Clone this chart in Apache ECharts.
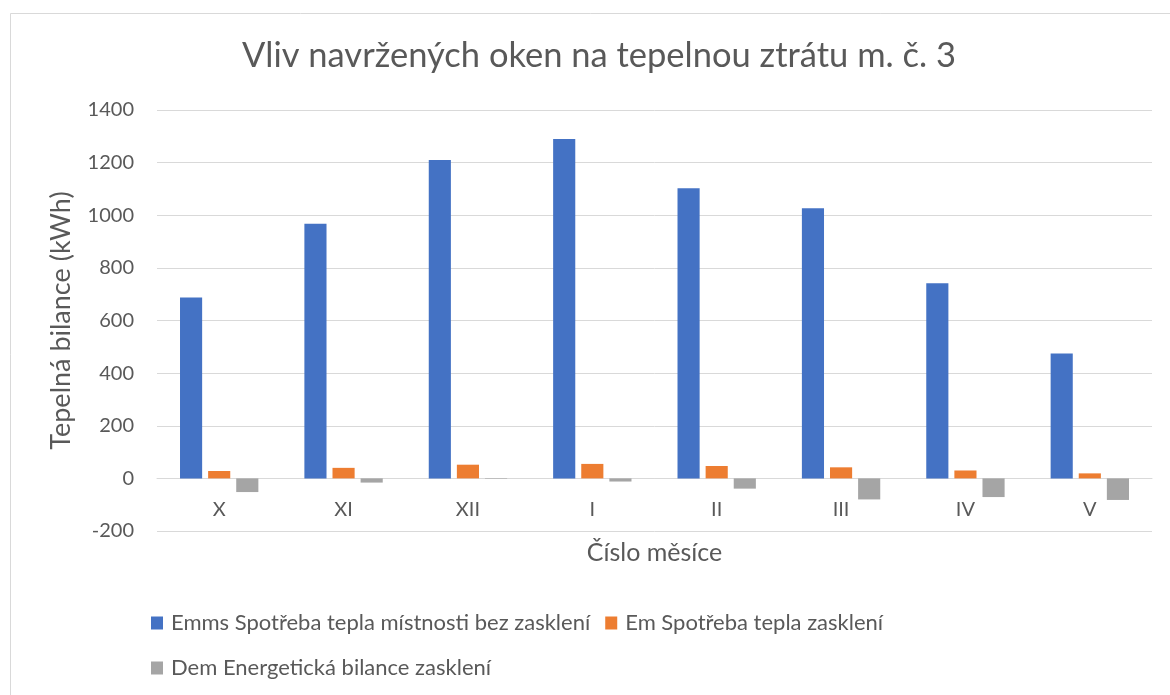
<!DOCTYPE html>
<html>
<head>
<meta charset="utf-8">
<script src="https://cdn.jsdelivr.net/npm/echarts@6/dist/echarts.min.js"></script>
<style>
  html, body { margin: 0; padding: 0; background: #ffffff; }
  #chart { width: 1170px; height: 695px; }
</style>
</head>
<body>
<div id="chart"></div>
<script>
// Months of the heating season (Roman numerals)
const months = ['X', 'XI', 'XII', 'I', 'II', 'III', 'IV', 'V'];

// Heat demand of the room without glazing (kWh)
const emms = [687, 968, 1210, 1290, 1103, 1027, 742, 475];
// Heat demand of the glazing (kWh)
const em = [28, 40, 52, 55, 47, 42, 30, 19];
// Energy balance of the glazing (kWh)
const dem = [-52, -16, -2, -12, -39, -80, -71, -82];

const seriesNames = [
  'Emms Spotřeba tepla místnosti bez zasklení',
  'Em Spotřeba tepla zasklení',
  'Dem Energetická bilance zasklení'
];
const colors = ['#4472C4', '#ED7D31', '#A5A5A5'];

const FONT = 'Lato, "Open Sans", sans-serif';
const TEXT = '#595959';

const chart = echarts.init(document.getElementById('chart'), null, { renderer: 'canvas' });

function bar(name, data, color) {
  return {
    name: name,
    type: 'bar',
    data: data,
    barCategoryGap: '37%',
    barGap: '27%',
    itemStyle: { color: color },
    emphasis: { disabled: true }
  };
}

const legendText = { fontFamily: FONT, fontSize: 22, color: TEXT, padding: [0, 0, 0, 3] };

chart.setOption({
  animation: false,
  backgroundColor: '#ffffff',
  color: colors,
  textStyle: { fontFamily: FONT, color: TEXT },
  graphic: [{
    type: 'rect',
    left: 8, top: 11,
    shape: { width: 1200, height: 720 },
    style: { fill: 'none', stroke: '#D9D9D9', lineWidth: 1 },
    silent: true,
    z: -1
  }],
  title: {
    text: 'Vliv navržených oken na tepelnou ztrátu m. č. 3',
    left: 594,
    textAlign: 'center',
    top: 33,
    textStyle: { fontFamily: FONT, fontSize: 34.5, fontWeight: 'normal', color: TEXT }
  },
  legend: [{
    data: [seriesNames[0], seriesNames[1]],
    left: 151, top: 612,
    padding: 0,
    itemWidth: 12, itemHeight: 13, itemGap: 15,
    icon: 'rect',
    textStyle: legendText
  }, {
    data: [seriesNames[2]],
    left: 151, top: 657,
    padding: 0,
    itemWidth: 12, itemHeight: 13,
    icon: 'rect',
    textStyle: legendText
  }],
  grid: { left: 157, right: 18, top: 110, bottom: 164, containLabel: false },
  xAxis: {
    type: 'category',
    data: months,
    name: 'Číslo měsíce',
    nameLocation: 'middle',
    nameGap: 9,
    nameTextStyle: { fontFamily: FONT, fontSize: 25, color: TEXT },
    axisLine: { onZero: true, lineStyle: { color: '#D9D9D9', width: 1 } },
    axisTick: { show: false },
    axisLabel: { fontFamily: FONT, fontSize: 20, color: TEXT, margin: -31 }
  },
  yAxis: {
    type: 'value',
    min: -200, max: 1400, interval: 200,
    name: 'Tepelná bilance (kWh)',
    nameLocation: 'middle',
    nameGap: 82,
    nameTextStyle: { fontFamily: FONT, fontSize: 27, color: TEXT },
    axisLine: { show: false },
    axisTick: { show: false },
    axisLabel: {
      fontFamily: FONT, fontSize: 20, color: TEXT, margin: 23,
      formatter: function (v) { return String(v); }
    },
    splitLine: { lineStyle: { color: '#D9D9D9', width: 1 } }
  },
  series: [
    bar(seriesNames[0], emms, colors[0]),
    bar(seriesNames[1], em, colors[1]),
    bar(seriesNames[2], dem, colors[2])
  ]
});
</script>
</body>
</html>
